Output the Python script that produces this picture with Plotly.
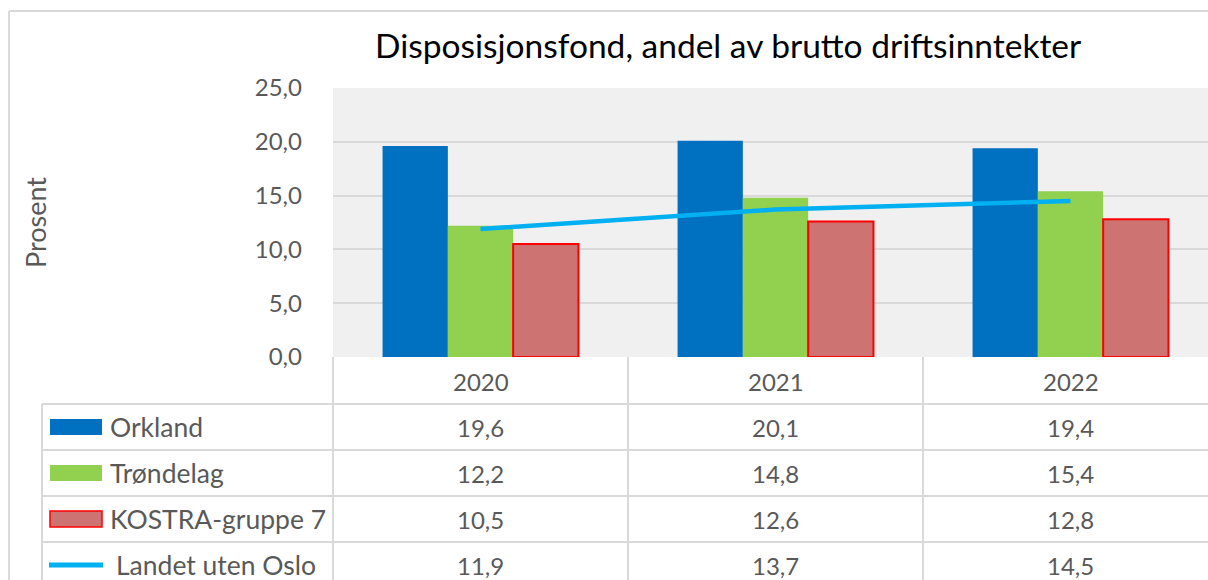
import plotly.graph_objects as go

years = ["2020", "2021", "2022"]
orkland = [19.6, 20.1, 19.4]
trondelag = [12.2, 14.8, 15.4]
kostra = [10.5, 12.6, 12.8]
landet = [11.9, 13.7, 14.5]
series_names = ["Orkland", "Trøndelag", "KOSTRA-gruppe 7", "Landet uten Oslo"]
title_text = "Disposisjonsfond, andel av brutto driftsinntekter"
y_title = "Prosent"

W, H = 1208, 580
L, T, B = 333, 88, 357
PW, PH = W - L, B - T
CAT_W = 295.0

def px(x):
    return (x - L) / PW

def py(y):
    return (B - y) / PH

FONT = "Lato"
GREY = "#595959"
LINE = "#D9D9D9"

c_ork = "#0070C0"
c_tro = "#92D050"
c_kos = "#CD7371"
c_kos_line = "#FF0000"
c_land = "#00B0F0"

fig = go.Figure()
fig.add_trace(go.Bar(x=years, y=orkland, name=series_names[0], marker=dict(color=c_ork, line=dict(width=0))))
fig.add_trace(go.Bar(x=years, y=trondelag, name=series_names[1], marker=dict(color=c_tro, line=dict(width=0))))
fig.add_trace(go.Bar(x=years, y=kostra, name=series_names[2], marker=dict(color=c_kos, line=dict(color=c_kos_line, width=2))))
fig.add_trace(go.Scatter(x=years, y=landet, name=series_names[3], mode="lines", line=dict(color=c_land, width=4.5)))

x_end = -0.5 + PW / CAT_W

shapes = []
# outer chart border
shapes.append(dict(type="line", xref="paper", yref="paper", x0=px(9), x1=px(1300), y0=py(11), y1=py(11), line=dict(color=LINE, width=2)))
shapes.append(dict(type="line", xref="paper", yref="paper", x0=px(9), x1=px(9), y0=py(11), y1=py(700), line=dict(color=LINE, width=2)))

# table lines
row_tops = [404, 450, 496, 542, 588]
for yy in row_tops:
    shapes.append(dict(type="line", xref="paper", yref="paper", x0=px(42), x1=px(1300), y0=py(yy), y1=py(yy), line=dict(color=LINE, width=2)))
shapes.append(dict(type="line", xref="paper", yref="paper", x0=px(42), x1=px(42), y0=py(404), y1=py(700), line=dict(color=LINE, width=2)))
for i in range(len(years) + 1):
    xx = L + i * CAT_W
    shapes.append(dict(type="line", xref="paper", yref="paper", x0=px(xx), x1=px(xx), y0=py(357), y1=py(700), line=dict(color=LINE, width=2)))

# legend keys
row_centers = [427, 473, 519, 565]
key_colors = [(c_ork, c_ork), (c_tro, c_tro), (c_kos, c_kos_line)]
for i, (fc, lc) in enumerate(key_colors):
    yc = row_centers[i]
    shapes.append(dict(type="rect", xref="paper", yref="paper", x0=px(50), x1=px(102), y0=py(yc - 8), y1=py(yc + 8),
                       fillcolor=fc, line=dict(color=lc, width=1.5 if i == 2 else 0)))
shapes.append(dict(type="line", xref="paper", yref="paper", x0=px(49), x1=px(103), y0=py(565), y1=py(565), line=dict(color=c_land, width=5)))

annotations = []
annotations.append(dict(text=title_text, xref="paper", yref="paper", x=px(728), y=py(45), showarrow=False,
                        font=dict(family=FONT, size=33.5, color="#000000"), xanchor="center", yanchor="middle"))
annotations.append(dict(text=y_title, xref="paper", yref="paper", x=px(35), y=py(223), showarrow=False, textangle=-90,
                        font=dict(family=FONT, size=27, color=GREY), xanchor="center", yanchor="middle"))
for j, yr in enumerate(years):
    annotations.append(dict(text=yr, xref="x", yref="paper", x=j, y=py(381), showarrow=False,
                            font=dict(family=FONT, size=24, color=GREY), xanchor="center", yanchor="middle"))
all_vals = [orkland, trondelag, kostra, landet]
for i, vals in enumerate(all_vals):
    yc = row_centers[i]
    annotations.append(dict(text=series_names[i], xref="paper", yref="paper", x=px(108 if i < 3 else 114), y=py(yc),
                            showarrow=False, font=dict(family=FONT, size=26.5, color=GREY), xanchor="left", yanchor="middle"))
    for j, v in enumerate(vals):
        annotations.append(dict(text=f"{v:.1f}".replace(".", ","), xref="x", yref="paper", x=j, y=py(yc), showarrow=False,
                                font=dict(family=FONT, size=24, color=GREY), xanchor="center", yanchor="middle"))

fig.update_layout(
    width=W, height=H,
    margin=dict(l=L, r=0, t=T, b=H - B, pad=0),
    paper_bgcolor="white", plot_bgcolor="#F0F0F0",
    barmode="group", bargap=0.336, bargroupgap=0,
    showlegend=False,
    separators=", ",
    font=dict(family=FONT, color=GREY),
    shapes=shapes, annotations=annotations,
)
fig.update_xaxes(type="category", range=[-0.5, x_end], showticklabels=False, showgrid=False, zeroline=False, showline=False, fixedrange=True)
fig.update_yaxes(range=[0, 25], dtick=5, tickformat=".1f", showgrid=True, gridcolor=LINE, gridwidth=2,
                 zeroline=False, showline=False, ticks="", ticklabelstandoff=30,
                 tickfont=dict(family=FONT, size=24, color=GREY))

fig.write_html("out.html", config={"displayModeBar": False},
               post_script="document.body.style.margin='0';document.body.style.overflow='hidden';")
